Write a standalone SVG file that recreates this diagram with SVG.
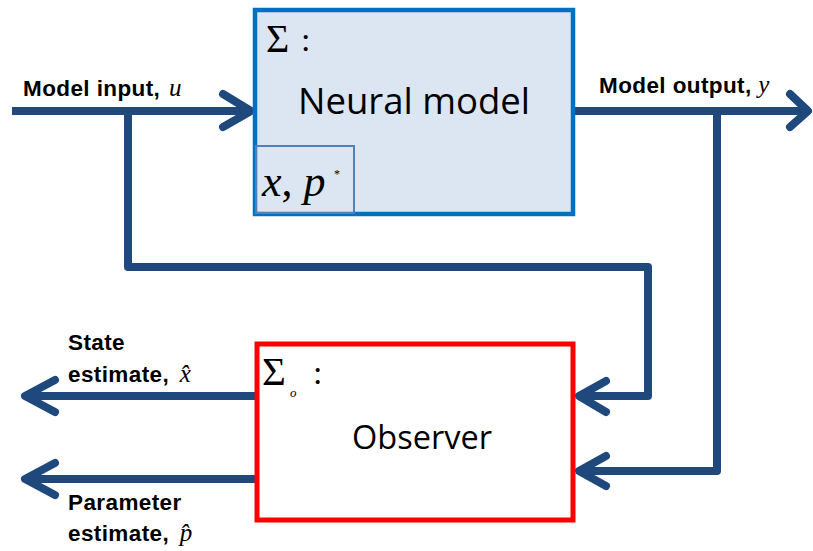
<svg xmlns="http://www.w3.org/2000/svg" width="813" height="551" viewBox="0 0 813 551">
<style>
.wire{fill:none;stroke:#1F497D;stroke-width:8;stroke-linejoin:round;stroke-linecap:butt}
.head{fill:none;stroke:#1F497D;stroke-width:8;stroke-linecap:round;stroke-linejoin:round}
.lbl{font-family:"Liberation Sans",Arial,sans-serif;font-weight:bold;font-size:22.5px;letter-spacing:0.4px;fill:#000}
.math{font-family:"Liberation Serif","Times New Roman",serif;font-style:italic;font-weight:normal;letter-spacing:0;fill:#000}
.sig{font-family:"Liberation Serif","Times New Roman",serif;fill:#000}
.big{font-family:"Open Sans","Liberation Sans",sans-serif;fill:#000}
</style>
<rect width="813" height="551" fill="#fff"/>
<g id="connectors">
  <path class="wire" d="M12,111 H248"/>
  <path class="head" d="M223,94 L251,111 L223,127"/>
  <path class="wire" d="M575,111 H808"/>
  <path class="head" d="M790,94 L808,111 L790,127"/>
  <path class="wire" d="M128,111 V267 H648 V396 H580"/>
  <path class="head" d="M606,381 L579,396 L606,412"/>
  <path class="wire" d="M717,111 V471 H580"/>
  <path class="head" d="M606,456 L579,471 L606,486"/>
  <path class="wire" d="M255,396 H27"/>
  <path class="head" d="M55,380 L25,396 L55,412"/>
  <path class="wire" d="M255,479 H27"/>
  <path class="head" d="M55,463 L25,479 L55,495"/>
</g>
<g id="neural-model">
  <rect x="255" y="10" width="318" height="204" fill="#DCE6F2" stroke="#0070C0" stroke-width="4.5"/>
  <rect x="256" y="146" width="98" height="67" fill="none" stroke="#4F81BD" stroke-width="2"/>
  <text class="sig" x="266" y="52" font-size="40">Σ</text>
  <text class="sig" x="301" y="51" font-size="34">:</text>
  <text class="big" x="414" y="114" font-size="36.5" text-anchor="middle">Neural model</text>
  <text class="math" x="262" y="196" font-size="44">x<tspan font-style="normal">,</tspan> p</text>
  <text class="sig" x="334" y="178" font-size="12">*</text>
</g>
<g id="observer">
  <rect x="257" y="344" width="316" height="176" fill="#fff" stroke="#FF0000" stroke-width="5"/>
  <text class="sig" x="262" y="385" font-size="41">Σ</text>
  <text class="math" x="290" y="397" font-size="13">o</text>
  <text class="sig" x="313" y="384" font-size="34">:</text>
  <text class="big" x="422" y="449" font-size="32.5" text-anchor="middle">Observer</text>
</g>
<g id="labels">
  <text class="lbl" x="23" y="96">Model input, <tspan class="math" font-size="25" dx="2">u</tspan></text>
  <text class="lbl" x="599" y="93">Model output, <tspan class="math" font-size="25">y</tspan></text>
  <text class="lbl" x="68" y="350">State</text>
  <text class="lbl" x="68" y="382">estimate, <tspan class="math" font-size="25" dx="4">x̂</tspan></text>
  <text class="lbl" x="68" y="510">Parameter</text>
  <text class="lbl" x="68" y="541">estimate, <tspan class="math" font-size="25" dx="4">p̂</tspan></text>
</g>
</svg>
